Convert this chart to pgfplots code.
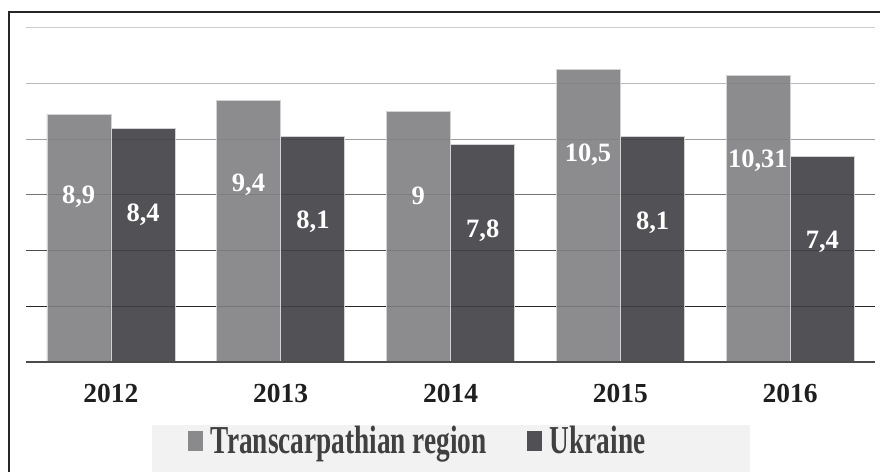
\documentclass[border=0pt]{standalone}
\usepackage{pgfplots}
\pgfplotsset{compat=1.18}
\usepackage{fontspec}
\setmainfont{Liberation Serif}
\usepackage{graphicx}
\definecolor{barA}{HTML}{7F7F83}
\definecolor{barB}{HTML}{3F3F44}
\definecolor{legbg}{HTML}{F2F2F2}
\definecolor{legtext}{HTML}{404040}
\begin{document}
\begin{tikzpicture}[x=1pt,y=1pt]
\useasboundingbox (0,0) rectangle (880,471);
\fill[legbg] (152,46) rectangle (750,-10);
\draw[line width=1.5pt, black!85] (9,-20) -- (9,459) -- (900,459);
\begin{axis}[
  at={(26pt,109pt)}, anchor=south west,
  scale only axis, width=849pt, height=334pt,
  xmin=-0.5, xmax=4.5, ymin=0, ymax=12,
  axis line style={draw=none},
  major tick length=0pt,
  ytick=\empty,
  xtick={0,1,2,3,4},
  xticklabels={2012,2013,2014,2015,2016},
  xticklabel style={font=\fontsize{27.5}{30}\selectfont\bfseries, text=black!88, yshift=-19pt},
  ybar=0pt, bar width=64pt,
  clip=false,
  legend style={at={(axis description cs:0.187,-0.2365)}, anchor=west, draw=none, fill=none,
    legend columns=2, font=\fontsize{27.3}{30}\selectfont\bfseries, text=legtext,
    /tikz/every odd column/.append style={column sep=6pt},
    /tikz/every even column/.append style={column sep=38pt}},
  legend image code/.code={\fill[#1,draw=none] (0pt,-10pt) rectangle (15pt,10pt);},
]
\draw[gray!40, line width=1pt] (axis cs:-0.5,12) -- (axis cs:4.5,12);
\draw[gray!55, line width=1pt] (axis cs:-0.5,10) -- (axis cs:4.5,10);
\draw[gray!75, line width=1pt] (axis cs:-0.5,8) -- (axis cs:4.5,8);
\draw[black!55, line width=1pt] (axis cs:-0.5,6) -- (axis cs:4.5,6);
\draw[black!70, line width=1pt] (axis cs:-0.5,4) -- (axis cs:4.5,4);
\draw[black!85, line width=1pt] (axis cs:-0.5,2) -- (axis cs:4.5,2);
\addplot[fill=barA, draw=gray!35, line width=0.8pt, fill opacity=0.9] coordinates {(0,8.9) (1,9.4) (2,9.0) (3,10.5) (4,10.31)};
\addlegendentry{\scalebox{1}[1.45]{Transcarpathian region}}
\addplot[fill=barB, draw=gray!35, line width=0.8pt, fill opacity=0.9] coordinates {(0,8.4) (1,8.1) (2,7.8) (3,8.1) (4,7.4)};
\addlegendentry{\scalebox{1}[1.45]{Ukraine}}
\draw[black!70, line width=2pt] (axis cs:-0.5,0) -- (axis cs:4.5,0);
\begin{scope}[every node/.style={font=\fontsize{26.5}{28}\selectfont\bfseries, text=white}]
\node at (axis cs:-0.19,5.95) {8,9};
\node at (axis cs:0.19,5.30) {8,4};
\node at (axis cs:0.81,6.38) {9,4};
\node at (axis cs:1.19,5.05) {8,1};
\node at (axis cs:1.81,5.98) {9};
\node at (axis cs:2.19,4.72) {7,8};
\node at (axis cs:2.81,7.46) {10,5};
\node at (axis cs:3.19,5.00) {8,1};
\node at (axis cs:3.81,7.24) {10,31};
\node at (axis cs:4.19,4.32) {7,4};
\end{scope}
\end{axis}
\end{tikzpicture}
\end{document}
